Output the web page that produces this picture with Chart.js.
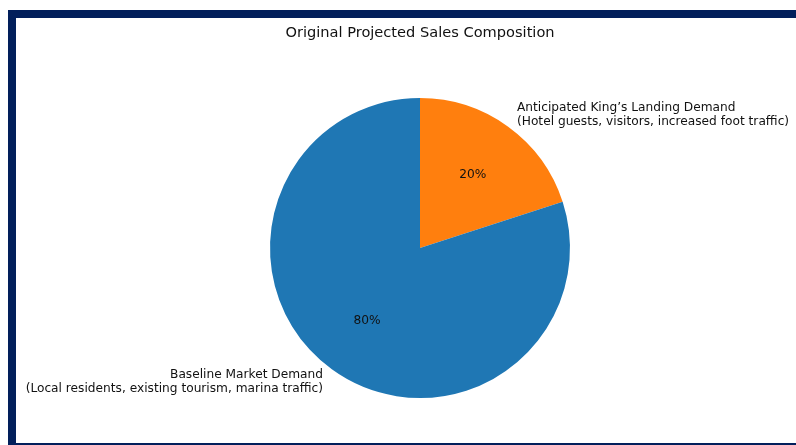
<!DOCTYPE html>
<html>
<head>
<meta charset="utf-8">
<script src="https://cdn.jsdelivr.net/npm/chart.js@4.4.0/dist/chart.umd.min.js"></script>
<style>
  html, body { margin: 0; padding: 0; background: #fff; }
  #frame {
    position: absolute; left: 8px; top: 10px;
    width: 780px; height: 425px;
    border-top: 8px solid #021f5b;
    border-left: 8px solid #021f5b;
    border-bottom: 2px solid #021f5b;
  }
  #wrap { position: relative; width: 780px; height: 425px; }
</style>
</head>
<body>
<div id="frame"><div id="wrap"><canvas id="pie"></canvas></div></div>
<script>
const sliceNames = [
	['Anticipated King\u2019s Landing Demand', '(Hotel guests, visitors, increased foot traffic)'],
	['Baseline Market Demand', '(Local residents, existing tourism, marina traffic)']
];
const shares = [ 20, 80 ];
const sliceColors = [ '#ff7f0e', '#1f77b4' ];

const FONT = '"DejaVu Sans", sans-serif';

// matplotlib-style autopct + outer labels
const pieLabels = {
	id: 'pieLabels',
	afterDatasetsDraw(chart) {
		const ctx = chart.ctx;
		const meta = chart.getDatasetMeta(0);
		const total = shares.reduce((a, b) => a + b, 0);
		ctx.save();
		ctx.fillStyle = '#111';
		meta.data.forEach((arc, i) => {
			const p = arc.getProps([ 'x', 'y', 'startAngle', 'endAngle', 'outerRadius' ], true);
			const mid = (p.startAngle + p.endAngle) / 2;
			const cx = Math.cos(mid), cy = Math.sin(mid);

			ctx.font = '12.2px ' + FONT;
			ctx.textAlign = 'center';
			ctx.textBaseline = 'middle';
			const pct = Math.round(shares[i] / total * 100) + '%';
			ctx.fillText(pct, p.x + cx * p.outerRadius * 0.6, p.y + cy * p.outerRadius * 0.6);

			const lx = p.x + cx * p.outerRadius * 1.1;
			const ly = p.y + cy * p.outerRadius * 1.1;
			ctx.textAlign = cx > 0 ? 'left' : 'right';
			const lines = sliceNames[i];
			const lh = 14;
			lines.forEach((t, k) => {
				ctx.fillText(t, lx, ly + (k - (lines.length - 1) / 2) * lh);
			});
		});
		ctx.restore();
	}
};

const chart = new Chart(document.getElementById('pie').getContext('2d'), {
	type: 'pie',
	data: {
		labels: sliceNames.map(l => l[0]),
		datasets: [
			{
				data: shares,
				backgroundColor: sliceColors,
				borderWidth: 0
			}
		]
	},
	options: {
		maintainAspectRatio: false,
		responsive: true,
		animation: false,
		layout: {
			padding: { left: 254, right: 226, top: 0, bottom: 45 }
		},
		plugins: {
			legend: { display: false },
			tooltip: { enabled: false },
			title: {
				display: true,
				text: 'Original Projected Sales Composition',
				color: '#111',
				font: { family: FONT, size: 14.6, weight: 'normal', lineHeight: 1.2 },
				padding: { top: 6, bottom: 56.5 }
			}
		}
	},
	plugins: [ pieLabels ]
});
</script>
</body>
</html>
